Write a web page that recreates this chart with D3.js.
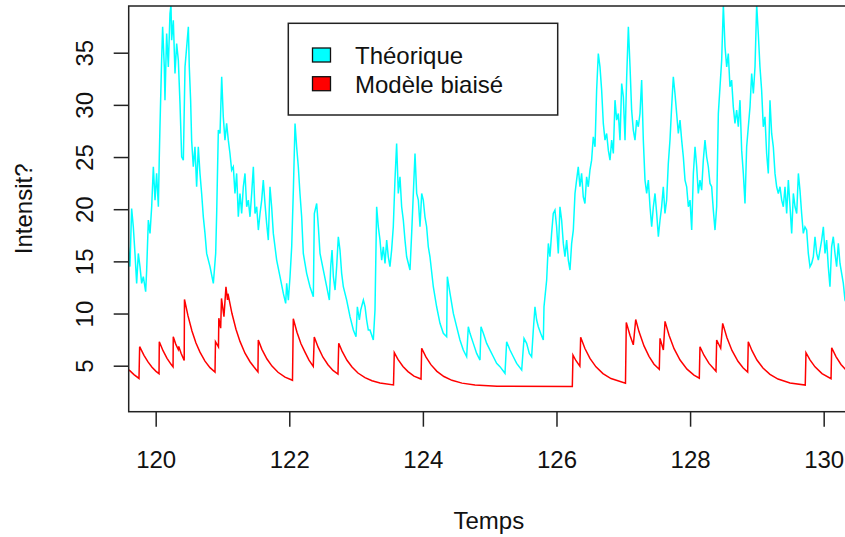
<!DOCTYPE html>
<html><head><meta charset="utf-8">
<script src="https://cdn.jsdelivr.net/npm/d3@7"></script>
<style>html,body{margin:0;padding:0;background:#fff;}svg{display:block;font-family:"Liberation Sans",Arial,sans-serif;}</style>
</head><body>
<svg id="chart" width="845" height="537"></svg>
<script>
// ---- data ----
const xTicks = [120, 122, 124, 126, 128, 130];
const yTicks = [5, 10, 15, 20, 25, 30, 35];
const legendLabels = ["Théorique", "Modèle biaisé"];
const seriesColors = ["#00FFFF", "#FF0000"];
const xLabel = "Temps";
const yLabel = "Intensit?";

const theorique = [
[119.59,16.4],[119.615,14.49],[119.64,20.07],[119.665,18.32],[119.69,15.76],[119.715,12.89],[119.74,15.76],[119.765,14.49],
[119.79,12.89],[119.815,13.53],[119.85,12.09],[119.865,14.17],[119.89,18.96],[119.915,17.68],[119.94,20.23],[119.965,24.07],
[119.99,20.87],[120.014,23.43],[120.04,20.23],[120.054,25.02],[120.064,27.9],[120.089,34.28],[120.104,37.48],[120.129,33.64],
[120.139,30.45],[120.164,36.84],[120.189,33.64],[120.214,38.75],[120.229,39.6],[120.239,36.2],[120.264,38.11],[120.289,33.01],
[120.314,35.88],[120.339,34.28],[120.364,30.13],[120.389,25.02],[120.414,24.7],[120.439,33.64],[120.464,35.56],[120.489,37.48],
[120.503,33.64],[120.523,30.45],[120.538,26.62],[120.563,24.07],[120.588,25.98],[120.613,22.15],[120.638,25.98],[120.663,23.43],
[120.688,21.51],[120.713,19.27],[120.738,17.68],[120.763,15.76],[120.813,14.49],[120.863,12.89],[120.898,15.76],[120.913,19.59],
[120.938,27.58],[120.963,27.26],[120.988,32.69],[121.012,28.85],[121.037,26.62],[121.062,28.22],[121.087,26.62],[121.112,25.34],
[121.137,23.75],[121.162,24.07],[121.187,21.51],[121.212,23.43],[121.237,19.27],[121.262,21.51],[121.287,19.59],[121.312,22.15],
[121.337,23.43],[121.362,20.23],[121.387,20.87],[121.412,19.27],[121.437,21.51],[121.462,24.07],[121.487,19.59],[121.512,20.23],
[121.537,18.0],[121.562,19.59],[121.587,20.87],[121.611,22.79],[121.636,20.55],[121.661,18.64],[121.686,17.04],[121.711,22.15],
[121.736,20.23],[121.761,17.68],[121.786,16.4],[121.811,15.12],[121.861,13.53],[121.911,11.93],[121.946,10.97],[121.961,12.89],
[121.986,11.29],[122.011,13.53],[122.036,16.4],[122.061,21.83],[122.086,28.22],[122.11,25.98],[122.135,24.07],[122.16,21.51],
[122.185,19.27],[122.21,15.76],[122.26,13.85],[122.31,12.57],[122.36,11.61],[122.375,19.59],[122.41,20.55],[122.435,18.32],
[122.46,15.76],[122.51,14.17],[122.56,12.57],[122.6,11.29],[122.62,14.49],[122.64,16.08],[122.66,13.53],[122.685,12.25],
[122.709,14.49],[122.734,17.36],[122.759,16.08],[122.784,13.85],[122.809,12.57],[122.859,11.29],[122.909,9.7],[122.959,8.42],
[122.999,7.78],[123.019,10.65],[123.049,9.38],[123.069,10.33],[123.109,11.29],[123.134,10.65],[123.158,9.38],[123.183,8.42],
[123.208,8.42],[123.258,7.46],[123.283,10.33],[123.308,20.23],[123.333,18.32],[123.358,17.04],[123.383,15.12],[123.408,16.4],
[123.433,14.8],[123.458,17.04],[123.482,15.44],[123.507,14.49],[123.532,16.08],[123.557,18.32],[123.582,22.79],[123.607,26.3],
[123.632,21.51],[123.657,23.11],[123.682,20.23],[123.707,18.96],[123.732,17.04],[123.757,15.44],[123.807,14.17],[123.832,17.68],
[123.857,21.51],[123.882,25.34],[123.907,21.51],[123.932,20.87],[123.957,18.32],[123.982,21.51],[124.006,20.87],[124.031,19.27],
[124.056,18.32],[124.081,16.4],[124.106,15.44],[124.156,12.57],[124.206,10.65],[124.256,9.06],[124.306,8.1],[124.356,7.78],
[124.366,13.53],[124.406,11.93],[124.456,10.01],[124.505,8.74],[124.555,7.46],[124.605,6.5],[124.655,5.86],[124.68,8.74],
[124.705,8.1],[124.755,7.14],[124.805,6.18],[124.855,5.54],[124.87,8.74],[124.905,8.1],[124.955,7.14],[125.005,6.5],
[125.055,5.86],[125.104,5.22],[125.154,4.91],[125.229,4.27],[125.254,7.3],[125.304,6.5],[125.354,5.86],[125.404,5.22],
[125.479,4.59],[125.514,7.62],[125.553,7.14],[125.593,6.18],[125.628,5.86],[125.653,8.42],[125.678,10.65],[125.703,9.38],
[125.728,8.74],[125.763,8.1],[125.803,7.46],[125.813,10.65],[125.853,13.21],[125.878,16.72],[125.902,15.44],[125.927,17.68],
[125.952,19.59],[125.977,19.91],[126.002,18.32],[126.027,15.76],[126.052,20.23],[126.077,18.96],[126.102,16.72],[126.127,15.44],
[126.152,17.04],[126.177,15.12],[126.202,14.17],[126.227,16.72],[126.252,18.0],[126.277,21.51],[126.301,22.79],[126.326,24.06],
[126.351,22.15],[126.376,23.43],[126.401,21.19],[126.426,20.55],[126.451,23.11],[126.476,22.15],[126.501,23.75],[126.526,24.7],
[126.551,26.94],[126.577,25.98],[126.601,31.41],[126.626,34.92],[126.651,33.64],[126.676,31.41],[126.701,28.22],[126.726,26.62],
[126.751,27.26],[126.776,25.66],[126.801,24.7],[126.826,26.62],[126.851,25.34],[126.876,30.45],[126.901,28.54],[126.926,29.17],
[126.951,26.62],[126.976,32.05],[127.001,30.77],[127.026,26.62],[127.051,32.69],[127.076,37.48],[127.101,33.64],[127.125,29.49],
[127.15,27.58],[127.175,26.62],[127.2,28.54],[127.225,27.9],[127.25,29.17],[127.275,32.37],[127.3,26.62],[127.325,22.79],
[127.35,21.51],[127.375,22.79],[127.4,20.23],[127.425,18.32],[127.45,20.23],[127.475,21.51],[127.5,19.59],[127.525,17.36],
[127.55,18.96],[127.574,20.23],[127.599,22.15],[127.624,19.59],[127.649,20.87],[127.674,24.38],[127.699,26.62],[127.724,29.81],
[127.749,32.69],[127.774,31.09],[127.799,29.17],[127.824,27.26],[127.849,28.54],[127.874,26.62],[127.899,25.02],[127.924,22.79],
[127.949,22.15],[127.974,20.23],[127.999,20.87],[128.024,18.0],[128.049,23.43],[128.074,25.98],[128.099,24.07],[128.123,21.51],
[128.148,22.79],[128.173,21.83],[128.198,24.7],[128.223,26.62],[128.248,25.02],[128.273,24.07],[128.298,22.47],[128.323,22.15],
[128.348,19.91],[128.373,18.0],[128.398,20.23],[128.423,29.17],[128.448,31.73],[128.473,34.28],[128.498,39.6],[128.523,35.56],
[128.548,33.64],[128.572,34.92],[128.597,31.73],[128.622,32.37],[128.647,29.81],[128.672,28.22],[128.697,29.49],[128.722,27.9],
[128.747,30.45],[128.772,25.66],[128.797,23.43],[128.822,20.55],[128.847,25.98],[128.872,27.9],[128.897,29.81],[128.922,33.01],
[128.947,31.09],[128.972,33.64],[128.997,39.6],[129.021,36.84],[129.046,33.64],[129.071,31.41],[129.096,27.9],[129.121,28.85],
[129.146,25.34],[129.171,23.43],[129.196,30.45],[129.221,27.26],[129.246,25.98],[129.271,23.43],[129.296,22.15],[129.321,21.51],
[129.346,22.15],[129.371,20.87],[129.396,20.23],[129.421,22.15],[129.446,19.59],[129.471,22.79],[129.496,20.23],[129.521,17.68],
[129.546,21.51],[129.571,20.23],[129.596,19.59],[129.621,23.43],[129.645,21.83],[129.67,19.59],[129.695,17.68],[129.72,18.3],
[129.745,18.0],[129.77,15.76],[129.795,14.49],[129.82,14.8],[129.845,15.44],[129.87,17.36],[129.895,15.76],[129.92,15.12],
[129.945,16.08],[129.97,17.04],[129.995,18.32],[130.02,15.76],[130.044,17.04],[130.069,14.49],[130.094,12.57],[130.119,16.4],
[130.144,17.36],[130.169,15.76],[130.194,14.49],[130.219,16.72],[130.244,14.8],[130.269,13.85],[130.294,12.89],[130.319,11.29],
[130.36,10.8]
];

const biaise = [
[119.60,4.60],[119.675,4.15],[119.75,3.78],
[119.76,6.82],[119.825,6.0],[119.885,5.36],[119.945,4.86],[120.005,4.46],[120.05,4.24],
[120.054,7.3],[120.11,6.44],[120.17,5.71],[120.23,5.13],[120.26,4.89],
[120.263,7.78],[120.30,7.07],[120.338,6.55],[120.345,6.85],[120.38,6.2],[120.427,5.5],
[120.431,11.35],[120.484,9.77],[120.543,8.33],[120.603,7.18],[120.663,6.3],[120.738,5.44],[120.813,4.81],[120.888,4.38],
[120.895,7.3],[120.94,6.8],[120.945,9.55],[120.973,8.6],[120.985,11.45],[121.022,9.7],[121.052,12.57],[121.075,11.3],[121.082,11.9],
[121.142,10.0],[121.202,8.5],[121.262,7.33],[121.337,6.2],[121.412,5.38],[121.472,4.87],[121.531,4.4],
[121.536,7.46],[121.59,6.57],[121.666,5.64],[121.741,4.96],[121.831,4.37],[121.936,3.9],[122.048,3.6],
[122.06,9.5],[122.115,8.2],[122.175,7.1],[122.235,6.3],[122.295,5.53],[122.359,4.93],
[122.374,7.75],[122.43,6.8],[122.504,5.81],[122.579,5.09],[122.654,4.55],[122.729,4.2],
[122.74,7.15],[122.79,6.4],[122.864,5.52],[122.939,4.87],[123.028,4.3],[123.133,3.86],[123.238,3.56],[123.358,3.35],[123.56,3.15],
[123.572,6.25],[123.627,5.6],[123.702,4.92],[123.777,4.43],[123.867,4.0],[123.972,3.72],
[123.982,6.67],[124.045,5.84],[124.12,5.1],[124.21,4.46],[124.315,3.96],[124.435,3.6],[124.585,3.33],[124.78,3.15],[125.11,3.04],[126.237,3.0],
[126.247,6.02],[126.29,5.5],[126.35,4.95],
[126.362,7.72],[126.426,6.65],[126.501,5.7],[126.591,4.89],[126.696,4.24],[126.816,3.77],[127.033,3.32],
[127.045,9.15],[127.1,7.92],[127.15,7.0],
[127.186,9.43],[127.235,8.27],[127.31,6.9],[127.385,5.9],[127.46,5.14],[127.539,4.65],
[127.55,7.62],[127.6,6.5],[127.625,9.25],[127.685,7.92],[127.76,6.63],[127.85,5.54],[127.954,4.67],[128.058,4.1],[128.138,3.8],
[128.148,6.82],[128.208,6.0],[128.283,5.22],[128.388,4.46],
[128.398,7.46],[128.458,6.67],[128.488,9.06],[128.552,7.68],[128.627,6.46],[128.717,5.42],[128.792,4.8],[128.862,4.38],
[128.871,7.3],[128.927,6.44],[129.001,5.54],[129.091,4.78],[129.196,4.17],[129.316,3.72],[129.496,3.35],[129.724,3.14],
[129.735,6.25],[129.795,5.56],[129.87,4.89],[129.975,4.24],[130.11,3.75],
[130.12,6.72],[130.184,5.87],[130.259,5.12],[130.334,4.6],[130.37,4.4]
];

// ---- layout ----
const P = {left: 128.7, right: 849, top: 6, bottom: 411.7};
const svg = d3.select("#chart");

const x = d3.scaleLinear().domain([119.596, 130.379]).range([P.left, P.right]);
const y = d3.scaleLinear().domain([0.591, 39.476]).range([P.bottom, P.top]);

svg.append("defs").append("clipPath").attr("id", "clip")
  .append("rect").attr("x", P.left).attr("y", P.top)
  .attr("width", P.right - P.left).attr("height", P.bottom - P.top);

const line = d3.line().x(d => x(d[0])).y(d => y(d[1]));
const g = svg.append("g").attr("clip-path", "url(#clip)");
[theorique, biaise].forEach((s, i) => {
  g.append("path").datum(s).attr("d", line)
    .attr("fill", "none").attr("stroke", seriesColors[i])
    .attr("stroke-width", 1.5).attr("stroke-linejoin", "miter");
});

// axes
const xAxis = d3.axisBottom(x).tickValues(xTicks).tickSize(15).tickSizeOuter(0).tickPadding(0);
const gx = svg.append("g").attr("transform", `translate(0,${P.bottom})`).call(xAxis);
gx.select(".domain").remove();
gx.selectAll(".tick line").attr("stroke", "#222").attr("stroke-width", 1.5);
gx.selectAll(".tick text").attr("y", 56).attr("dy", null)
  .attr("font-size", 24).attr("fill", "#111").attr("font-family", "Liberation Sans, Arial, sans-serif");

const yAxis = d3.axisLeft(y).tickValues(yTicks).tickSize(15).tickSizeOuter(0);
const gy = svg.append("g").attr("transform", `translate(${P.left},0)`).call(yAxis);
gy.select(".domain").remove();
gy.selectAll(".tick line").attr("stroke", "#222").attr("stroke-width", 1.5);
gy.selectAll(".tick text").attr("x", null).attr("dy", null)
  .attr("transform", "translate(-36,0) rotate(-90)")
  .attr("text-anchor", "middle")
  .attr("font-size", 24).attr("fill", "#111").attr("font-family", "Liberation Sans, Arial, sans-serif");

// frame
svg.append("rect").attr("x", P.left).attr("y", P.top)
  .attr("width", P.right - P.left).attr("height", P.bottom - P.top)
  .attr("fill", "none").attr("stroke", "#222").attr("stroke-width", 1.5);

// axis titles
svg.append("text").attr("x", (P.left + P.right) / 2).attr("y", 529)
  .attr("text-anchor", "middle").attr("font-size", 24).attr("fill", "#111").text(xLabel);
svg.append("text").attr("transform", `translate(32,${(P.top + P.bottom) / 2}) rotate(-90)`)
  .attr("text-anchor", "middle").attr("font-size", 24).attr("fill", "#111").text(yLabel);

// legend
const lg = svg.append("g");
lg.append("rect").attr("x", 288.3).attr("y", 23.3).attr("width", 269.4).attr("height", 91.7)
  .attr("fill", "#fff").attr("stroke", "#222").attr("stroke-width", 1.5);
legendLabels.forEach((lab, i) => {
  const yy = 48 + i * 28.7;
  lg.append("rect").attr("x", 312.5).attr("y", yy).attr("width", 18).attr("height", 14)
    .attr("fill", seriesColors[i]).attr("stroke", "#111").attr("stroke-width", 1.3);
  lg.append("text").attr("x", 355).attr("y", yy + 16).attr("font-size", 24).attr("fill", "#111").text(lab);
});
</script>
</body></html>
